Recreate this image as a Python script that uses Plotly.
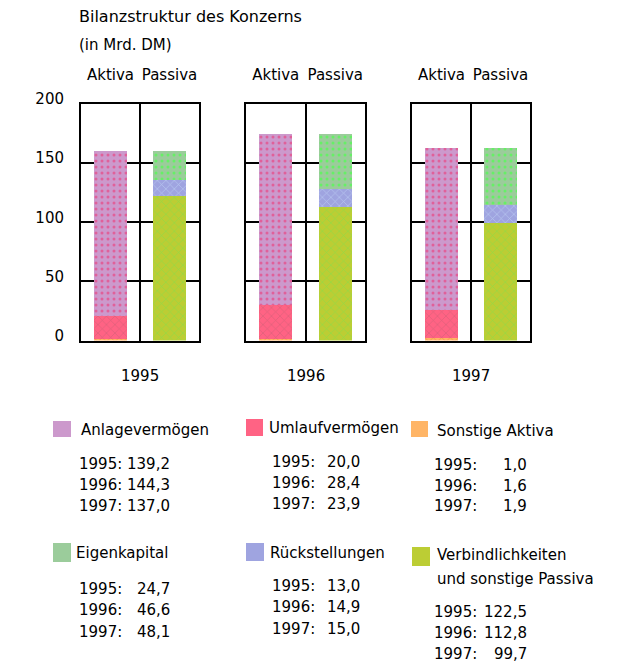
import plotly.graph_objects as go

# ---- data (Mrd. DM) ----
years = ["1995", "1996", "1997"]
sides = ["Aktiva", "Passiva"]
y_ticks = [0, 50, 100, 150, 200]

anlagevermoegen = [139.2, 144.3, 137.0]
umlaufvermoegen = [20.0, 28.4, 23.9]
sonstige_aktiva = [1.0, 1.6, 1.9]
eigenkapital = [24.7, 46.6, 48.1]
rueckstellungen = [13.0, 14.9, 15.0]
verbindlichkeiten = [122.5, 112.8, 99.7]

W, H = 618, 667
FONT = dict(family="DejaVu Sans", size=15, color="black")


def px(x):
    return x / W


def py(y):
    return 1 - y / H


# series: (name, values, side, base colour, pattern shape, pattern colour)
series = [
    ("Sonstige Aktiva", sonstige_aktiva, "Aktiva", "#ffb566", "x", "#f08a3c"),
    ("Umlaufvermögen", umlaufvermoegen, "Aktiva", "#ff6384", "x", "#d9607a"),
    ("Anlagevermögen", anlagevermoegen, "Aktiva", "#cc99cc", ".", "#e0609a"),
    ("Verbindlichkeiten und sonstige Passiva", verbindlichkeiten, "Passiva", "#bccd34", "x", "#8edb47"),
    ("Rückstellungen", rueckstellungen, "Passiva", "#9fa4e0", "x", "#b8c8f0"),
    ("Eigenkapital", eigenkapital, "Passiva", "#9bcc9b", ".", "#66f066"),
]

fig = go.Figure()

panel_x = [(81, 199), (246, 365), (412, 530)]
y_bottom, y_top = 340.5, 104

for i, year in enumerate(years):
    suffix = "" if i == 0 else str(i + 1)
    for name, vals, side, col, shape, fg in series:
        fig.add_trace(go.Bar(
            x=[side], y=[vals[i]], name=name, width=0.55,
            xaxis="x" + suffix, yaxis="y" + suffix, showlegend=False,
            marker=dict(color=col, line=dict(width=0),
                        pattern=dict(shape=shape, fgcolor=fg, bgcolor=col, size=6,
                                     solidity=0.2, fillmode="replace")),
        ))
    x0, x1 = panel_x[i]
    fig.layout["xaxis" + suffix] = dict(
        domain=[px(x0), px(x1)], anchor="y" + suffix, side="top",
        type="category", categoryorder="array", categoryarray=sides,
        range=[-0.5, 1.5], tickson="boundaries", ticks="", tickangle=0,
        showgrid=True, gridcolor="black", gridwidth=2, automargin=False,
        showline=True, linecolor="black", linewidth=2, mirror=True,
        tickfont=FONT, ticklabelstandoff=16, fixedrange=True,
    )
    fig.layout["yaxis" + suffix] = dict(
        domain=[py(y_bottom), py(y_top)], anchor="x" + suffix,
        range=[0, 200], tickvals=y_ticks, ticks="", automargin=False,
        showticklabels=(i == 0), tickfont=FONT,
        ticklabelstandoff=12, ticklabelshift=-5,
        showgrid=True, gridcolor="black", gridwidth=2, zeroline=False,
        showline=True, linecolor="black", linewidth=2, mirror=True,
        fixedrange=True,
    )
    fig.add_annotation(text=year, xref="x" + suffix + " domain", x=0.5,
                       yref="paper", y=py(376), showarrow=False, font=FONT,
                       xanchor="center", yanchor="middle")

# title
fig.add_annotation(text="Bilanzstruktur des Konzerns", xref="paper", yref="paper",
                   x=px(77), y=py(17), xanchor="left", yanchor="middle",
                   showarrow=False, font=dict(FONT, size=16))
fig.add_annotation(text="(in Mrd. DM)", xref="paper", yref="paper",
                   x=px(77), y=py(45), xanchor="left", yanchor="middle",
                   showarrow=False, font=FONT)

# legend block: swatch, heading and the three yearly values per series
legend_layout = {
    "Anlagevermögen": dict(sw=(53, 421, 71, 437), head=[(79, 430)], yx=77, vx=172, rows=[464, 485, 506]),
    "Umlaufvermögen": dict(sw=(246, 419, 263, 436), head=[(267, 428)], yx=270, vx=362, rows=[462, 483, 504]),
    "Sonstige Aktiva": dict(sw=(411, 421, 428, 437), head=[(435, 431)], yx=432, vx=529, rows=[465, 486, 506]),
    "Eigenkapital": dict(sw=(53, 543, 71, 562), head=[(74, 553)], yx=77, vx=172, rows=[589, 610, 632]),
    "Rückstellungen": dict(sw=(246, 543, 264, 561), head=[(268, 553)], yx=270, vx=362, rows=[586, 607, 629]),
    "Verbindlichkeiten und sonstige Passiva": dict(sw=(412, 547, 430, 566), head=[(435, 555), (435, 579)],
                                                   yx=432, vx=529, rows=[612, 633, 654]),
}
head_lines = {"Verbindlichkeiten und sonstige Passiva": ["Verbindlichkeiten", "und sonstige Passiva"]}

for name, vals, side, col, shape, fg in series:
    L = legend_layout[name]
    sx0, sy0, sx1, sy1 = L["sw"]
    fig.add_shape(type="rect", xref="paper", yref="paper",
                  x0=px(sx0), x1=px(sx1), y0=py(sy1), y1=py(sy0),
                  fillcolor=col, line=dict(width=0))
    lines = head_lines.get(name, [name])
    for (hx, hy), line in zip(L["head"], lines):
        fig.add_annotation(text=line, xref="paper", yref="paper", x=px(hx), y=py(hy),
                           xanchor="left", yanchor="middle", showarrow=False, font=FONT)
    for yr, v, ry in zip(years, vals, L["rows"]):
        fig.add_annotation(text=yr + ":", xref="paper", yref="paper", x=px(L["yx"]), y=py(ry),
                           xanchor="left", yanchor="middle", showarrow=False, font=FONT)
        fig.add_annotation(text=f"{v:.1f}".replace(".", ","), xref="paper", yref="paper",
                           x=px(L["vx"]), y=py(ry), xanchor="right", yanchor="middle",
                           showarrow=False, font=FONT)

fig.update_layout(
    width=W, height=H, autosize=False,
    margin=dict(l=0, r=0, t=0, b=0),
    barmode="stack", bargap=0,
    paper_bgcolor="white", plot_bgcolor="white",
    font=FONT, showlegend=False,
)

fig.write_html("out.html", config={"displayModeBar": False})
